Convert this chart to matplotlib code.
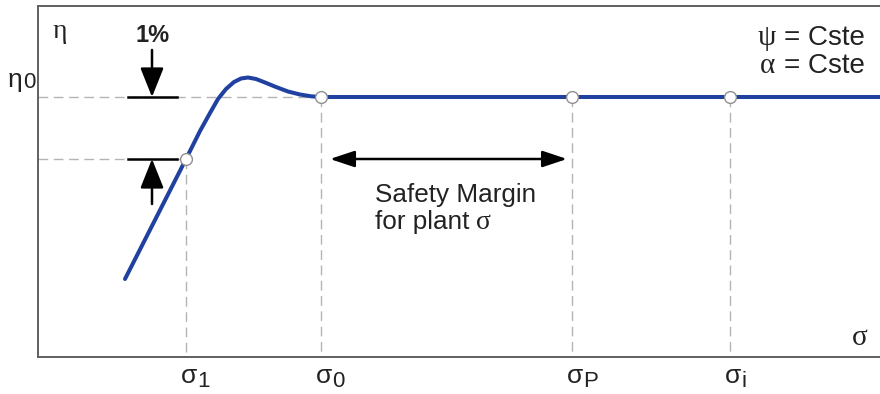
import matplotlib
matplotlib.use("Agg")
import matplotlib.pyplot as plt

# Efficiency curve (plot units ~ pixel grid of the original drawing)
curve_x = [125, 186, 200, 210, 218, 226, 234, 241, 248, 256, 265, 276, 288, 300, 311, 321, 880]
curve_y = [279, 159, 131, 113, 99, 89, 82, 78.5, 77.5, 79, 82.5, 87, 91.5, 94.5, 96.3, 97, 97]

# characteristic points on the curve
point_x = [186, 321, 572, 730]
point_y = [159, 97, 97, 97]
point_sub = ["1", "0", "P", "i"]

eta0 = 97
eta1 = 159

X_MIN, X_MAX = 38, 880
Y_BOT, Y_TOP = 357, 6

SERIF = "Liberation Serif"
SANS = "Liberation Sans"
TXT = "#222222"
DASH = "#b4b4b4"

fig = plt.figure(figsize=(8.8, 3.94), dpi=100)
ax = fig.add_axes([X_MIN / 880, (394 - Y_BOT) / 394, (X_MAX - X_MIN) / 880, (Y_BOT - Y_TOP) / 394])
ax.set_xlim(X_MIN, X_MAX)
ax.set_ylim(Y_BOT, Y_TOP)
ax.set_xticks([])
ax.set_yticks([])
for side in ["left", "top", "bottom"]:
    ax.spines[side].set_color("#606060")
    ax.spines[side].set_linewidth(1.4)
ax.spines["right"].set_visible(False)

dash_kw = dict(color=DASH, lw=1.0, dashes=(7, 4), zorder=1)

# guide lines
ax.plot([X_MIN, point_x[1]], [eta0, eta0], **dash_kw)
ax.plot([X_MIN, point_x[0]], [eta1, eta1], **dash_kw)
for px, py in zip(point_x, point_y):
    ax.plot([px, px], [py, Y_BOT], **dash_kw)

# curve and points
ax.plot(curve_x, curve_y, color="#2141a0", lw=2.9, solid_capstyle="round", zorder=3)
ax.plot(point_x, point_y, "o", ms=8.5, mfc="white", mec="#909090", mew=1.0, zorder=4)

# 1% band markers
bar_x = [128, 177]
arr_x = 152
ax.plot(bar_x, [eta0, eta0], color="black", lw=1.8, zorder=2)
ax.plot(bar_x, [eta1, eta1], color="black", lw=1.8, zorder=2)
head = dict(arrowstyle="-|>,head_length=1.8,head_width=0.72", color="black", lw=1.8,
            shrinkA=0, shrinkB=0, mutation_scale=10)
ax.annotate("", xy=(arr_x, eta0), xytext=(arr_x, 50), arrowprops=head)
ax.annotate("", xy=(arr_x, eta1), xytext=(arr_x, 204), arrowprops=head)
ax.text(arr_x + 1, 36, "1%", ha="center", va="center", fontsize=17, fontweight="bold",
        family=SANS, color=TXT)

# safety margin
both = dict(arrowstyle="<|-|>,head_length=1.5,head_width=0.5", color="black", lw=1.8,
            shrinkA=0, shrinkB=0, mutation_scale=10)
ax.annotate("", xy=(567, 159), xytext=(330, 159), arrowprops=both)
ax.text(375, 202, "Safety Margin", ha="left", va="baseline", fontsize=18.8, family=SANS, color=TXT)
ax.text(375, 229, "for plant ", ha="left", va="baseline", fontsize=18.8, family=SANS, color=TXT)
ax.text(476, 229, "σ", ha="left", va="baseline", fontsize=20, family=SERIF, color=TXT)

# axis symbols
ax.text(60, 32, "η", ha="center", va="center", fontsize=20, family=SERIF, color=TXT)
ax.text(860, 338, "σ", ha="center", va="center", fontsize=21, family=SERIF, color=TXT)
fig.text(15 / 880, 1 - 80 / 394, "η", ha="center", va="center", fontsize=19, family=SANS, color=TXT)
fig.text(23 / 880, 1 - 82 / 394, "0", ha="left", va="center", fontsize=16, family=SANS, color=TXT)

# sigma tick labels
for px, sub in zip(point_x, point_sub):
    ax.text(px + 3, 376, "σ", ha="center", va="center", fontsize=19, family=SANS, color=TXT,
            clip_on=False)
    ax.text(px + 11, 382, sub, ha="left", va="center", fontsize=16, family=SANS, color=TXT,
            clip_on=False)

# constant conditions
for yb, g in [(45, "ψ"), (73, "α")]:
    ax.text(767, yb, g, ha="center", va="baseline", fontsize=21, family=SERIF, color=TXT)
    ax.text(784, yb, "= Cste", ha="left", va="baseline", fontsize=20, family=SANS, color=TXT)

fig.savefig("out.png", dpi=100)
